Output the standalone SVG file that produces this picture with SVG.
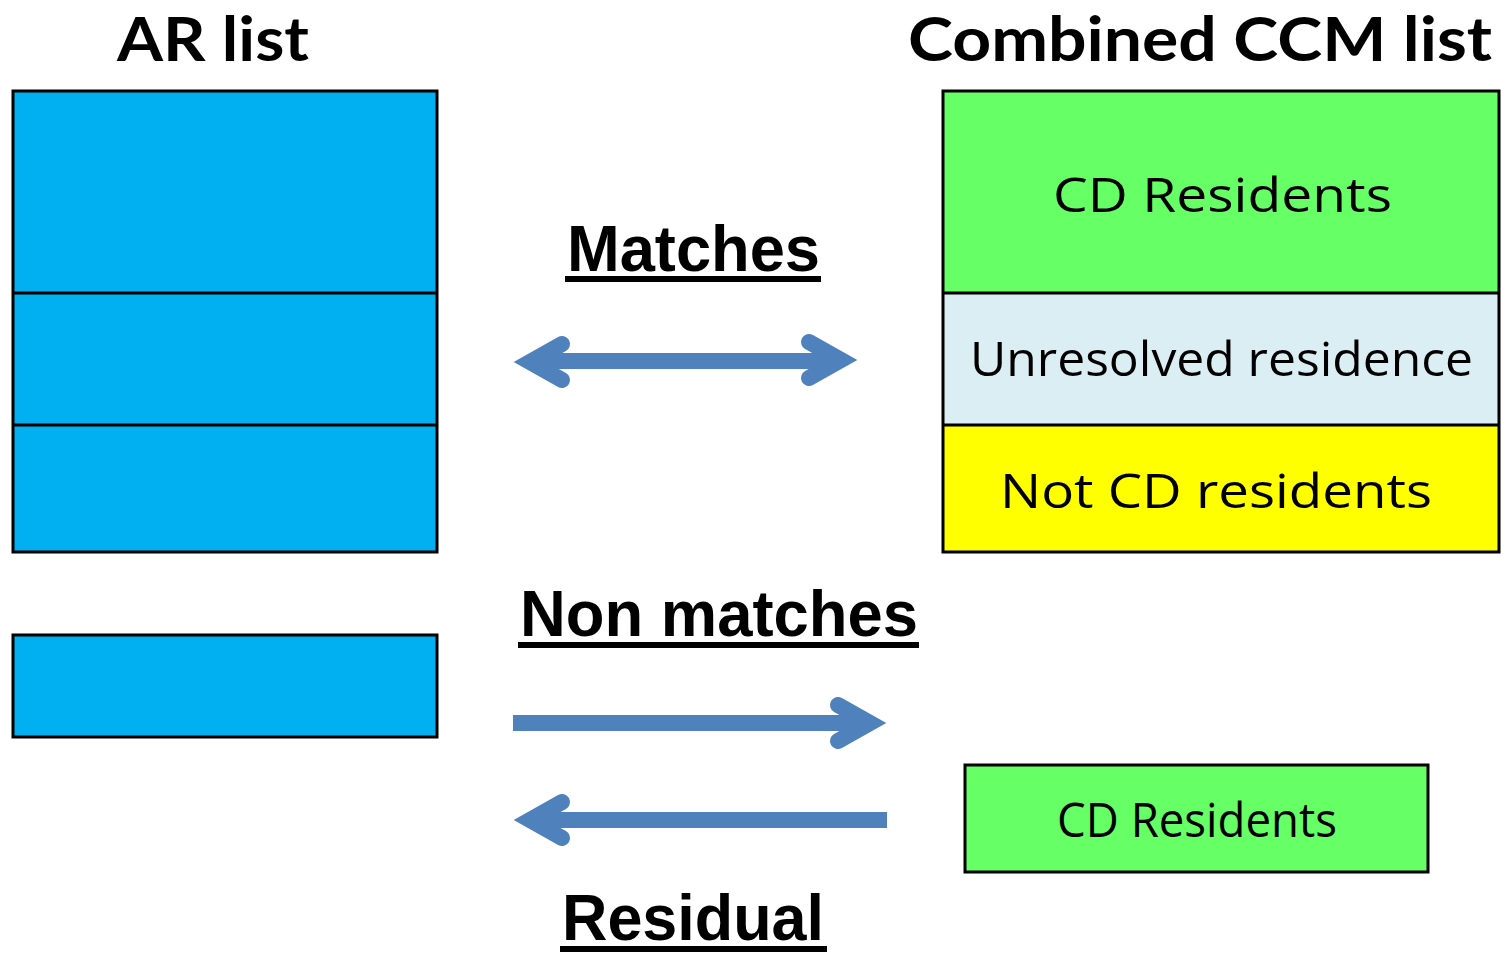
<svg xmlns="http://www.w3.org/2000/svg" width="1501" height="953" viewBox="0 0 1501 953">
<style>
.box{stroke:#000;stroke-width:3}
.ar{fill:#00B0F0}
.green{fill:#66FF66}
.lblue{fill:#DAEEF3}
.yellow{fill:#FFFF00}
.title{font-family:Lato,"Open Sans","Liberation Sans",sans-serif;font-weight:bold;font-size:61px;fill:#000}
.lbl{font-family:"Open Sans","Liberation Sans",sans-serif;font-size:47px;fill:#000}
.hd{font-family:"Liberation Sans",Arial,sans-serif;font-weight:bold;font-size:64px;fill:#000}
.ul{fill:#000}
.arrow{fill:none;stroke:#4F81BD;stroke-width:16}
.head{fill:none;stroke:#4F81BD;stroke-width:16;stroke-linecap:round;stroke-linejoin:miter;stroke-miterlimit:10}
</style>
<rect width="1501" height="953" fill="#fff"/>
<g id="ar-title"><text class="title" x="117" y="61" textLength="192" lengthAdjust="spacingAndGlyphs">AR list</text></g>
<g id="ccm-title"><text class="title" x="908" y="61" textLength="584" lengthAdjust="spacingAndGlyphs">Combined CCM list</text></g>
<g id="ar-list">
<rect class="box ar" x="13" y="91" width="424" height="461"/>
<line class="box" x1="13" y1="293" x2="437" y2="293"/>
<line class="box" x1="13" y1="425" x2="437" y2="425"/>
</g>
<g id="ar-residual"><rect class="box ar" x="13" y="635" width="424" height="102"/></g>
<g id="ccm-list">
<rect class="green" x="943" y="91" width="556" height="202"/>
<rect class="lblue" x="943" y="293" width="556" height="132"/>
<rect class="yellow" x="943" y="425" width="556" height="127"/>
<rect class="box" fill="none" x="943" y="91" width="556" height="461"/>
<line class="box" x1="943" y1="293" x2="1499" y2="293"/>
<line class="box" x1="943" y1="425" x2="1499" y2="425"/>
<text class="lbl" x="1053" y="212" textLength="339" lengthAdjust="spacingAndGlyphs">CD Residents</text>
<text class="lbl" x="970" y="376" textLength="503" lengthAdjust="spacingAndGlyphs">Unresolved residence</text>
<text class="lbl" x="1000" y="508" textLength="432" lengthAdjust="spacingAndGlyphs">Not CD residents</text>
</g>
<g id="cd-residents-small">
<rect class="box green" x="965" y="765" width="463" height="107"/>
<text class="lbl" x="1057" y="837" textLength="280" lengthAdjust="spacingAndGlyphs">CD Residents</text>
</g>
<g id="label-matches">
<text class="hd" x="567" y="271" textLength="253" lengthAdjust="spacingAndGlyphs">Matches</text>
<rect class="ul" x="565" y="276" width="256" height="6"/>
</g>
<g id="label-nonmatches">
<text class="hd" x="520" y="636" textLength="398" lengthAdjust="spacingAndGlyphs">Non matches</text>
<rect class="ul" x="518" y="642" width="401" height="6"/>
</g>
<g id="label-residual">
<text class="hd" x="562" y="940" textLength="262" lengthAdjust="spacingAndGlyphs">Residual</text>
<rect class="ul" x="560" y="946" width="267" height="6"/>
</g>
<g id="connectors">
<line class="arrow" x1="535" y1="361" x2="836" y2="361"/>
<path class="head" d="M562,344 L530,362 L562,380"/>
<path class="head" d="M809,342 L841,360 L809,378"/>
<line class="arrow" x1="513" y1="723" x2="865" y2="723"/>
<path class="head" d="M838,705 L870,723 L838,741"/>
<line class="arrow" x1="535" y1="820" x2="887" y2="820"/>
<path class="head" d="M562,802 L530,820 L562,838"/>
</g>
</svg>
